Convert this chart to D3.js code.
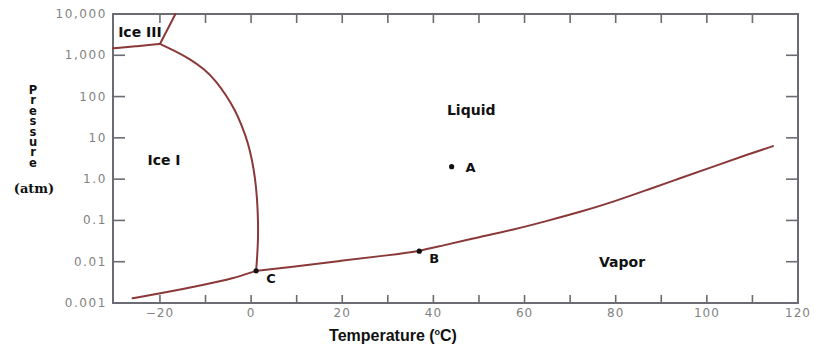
<!DOCTYPE html>
<html>
<head>
<meta charset="utf-8">
<script src="https://cdn.jsdelivr.net/npm/d3@7.9.0/dist/d3.min.js"></script>
<style>
  body { margin: 0; background: #fff; }
  svg { display: block; }
</style>
</head>
<body>
<svg></svg>
<script>
// phase boundaries, [temperature °C, pressure atm]
const iceIIIiceI = [[-30.3, 1480], [-25, 1650], [-20, 1880]];
const iceIIIliquid = [[-20, 1880], [-16.6, 10000]];
const melting = [[-20, 1880], [-16.7, 1270], [-13.4, 813], [-10.3, 466], [-7.7, 239], [-5.5, 109],
  [-3.5, 47], [-2.0, 19.4], [-0.66, 7.5], [0.22, 2.9], [0.88, 1.07], [1.32, 0.35], [1.54, 0.10],
  [1.54, 0.034], [1.32, 0.0123], [1.1, 0.006]];
const sublimation = [[-26, 0.0013], [-20, 0.0017], [-10, 0.0028], [-4, 0.0039], [1.1, 0.006]];
const vaporization = [[1.1, 0.006], [8.6, 0.0074], [19.5, 0.0105], [30.5, 0.0145], [36.9, 0.018],
  [41.5, 0.024], [50.3, 0.040], [57.5, 0.059], [65, 0.098], [72.2, 0.16], [79.4, 0.28],
  [86.9, 0.55], [94.1, 1.05], [101.4, 2.0], [108.8, 3.9], [114.5, 6.3]];

const points = [{ name: "A", t: 44, p: 2.0 }, { name: "B", t: 36.9, p: 0.018 }, { name: "C", t: 1.1, p: 0.006 }];
const regions = [
  { name: "Ice III", t: -24.4, p: 3650 },
  { name: "Ice I", t: -19.1, p: 2.9 },
  { name: "Liquid", t: 48.3, p: 48 },
  { name: "Vapor", t: 81.4, p: 0.01 }
];

const xLabels = [-20, 0, 20, 40, 60, 80, 100, 120];
const xMinor = d3.range(-20, 111, 10);
const yTicks = [0.001, 0.01, 0.1, 1, 10, 100, 1000, 10000];
const yLabels = ["0.001", "0.01", "0.1", "1.0", "10", "100", "1,000", "10,000"];

const width = 814, height = 347;
const svg = d3.select("svg").attr("width", width).attr("height", height);

const x = d3.scaleLinear().domain([-30.3, 120]).range([113, 798]);
const y = d3.scaleLog().domain([0.001, 10000]).range([303, 14]);

const axisColor = "#6b6b73";
const lineColor = "#8a3838";

// ticks (all pointing inward)
const ticks = svg.append("g").attr("stroke", axisColor).attr("stroke-width", 1.6);
ticks.selectAll(".bt").data(xMinor).enter().append("line")
  .attr("x1", d => x(d)).attr("x2", d => x(d)).attr("y1", 303).attr("y2", 295);
ticks.selectAll(".tt").data(xMinor).enter().append("line")
  .attr("x1", d => x(d)).attr("x2", d => x(d)).attr("y1", 14).attr("y2", 23);
ticks.selectAll(".lt").data(yTicks.slice(1, -1)).enter().append("line")
  .attr("x1", 113).attr("x2", 125).attr("y1", d => y(d)).attr("y2", d => y(d));
ticks.selectAll(".rt").data(yTicks.slice(1, -1)).enter().append("line")
  .attr("x1", 798).attr("x2", 786).attr("y1", d => y(d)).attr("y2", d => y(d));

// frame
svg.append("rect")
  .attr("x", 113).attr("y", 14).attr("width", 685).attr("height", 289)
  .attr("fill", "none").attr("stroke", axisColor).attr("stroke-width", 2);

// tick labels
svg.append("g").selectAll("text").data(xLabels).enter().append("text")
  .attr("x", d => x(d)).attr("y", 317)
  .attr("text-anchor", "middle")
  .attr("font-family", "DejaVu Sans").attr("font-size", 12)
  .attr("letter-spacing", 1)
  .attr("fill", "#828282")
  .text(d => d < 0 ? "\u2212" + Math.abs(d) : d);

svg.append("g").selectAll("text").data(yTicks).enter().append("text")
  .attr("x", 107).attr("y", d => y(d) + 4)
  .attr("text-anchor", "end")
  .attr("font-family", "DejaVu Sans").attr("font-size", 12)
  .attr("letter-spacing", 1.6)
  .attr("fill", "#828282")
  .text((d, i) => yLabels[i]);

// phase boundary curves
const line = d3.line().x(d => x(d[0])).y(d => y(d[1])).curve(d3.curveBasis);
const plot = svg.append("g").attr("fill", "none").attr("stroke", lineColor)
  .attr("stroke-width", 2).attr("stroke-linecap", "round");
[iceIIIiceI, iceIIIliquid, melting, sublimation, vaporization].forEach(curve => {
  plot.append("path").attr("d", line(curve));
});

// points
svg.selectAll(".pt").data(points).enter().append("circle")
  .attr("cx", d => x(d.t)).attr("cy", d => y(d.p)).attr("r", 2.6).attr("fill", "#111");

const labelOffset = { A: [19, 5], B: [15, 12], C: [15, 12] };
svg.selectAll(".pl").data(points).enter().append("text")
  .attr("x", d => x(d.t) + labelOffset[d.name][0]).attr("y", d => y(d.p) + labelOffset[d.name][1])
  .attr("text-anchor", "middle")
  .attr("font-family", "DejaVu Sans").attr("font-weight", "bold").attr("font-size", 13)
  .attr("fill", "#111")
  .text(d => d.name);

// region names
svg.selectAll(".rg").data(regions).enter().append("text")
  .attr("x", d => x(d.t)).attr("y", d => y(d.p) + 5)
  .attr("text-anchor", "middle")
  .attr("font-family", "DejaVu Sans").attr("font-weight", "bold").attr("font-size", 14)
  .attr("fill", "#111")
  .text(d => d.name);

// axis titles
const xt = svg.append("text")
  .attr("x", 393).attr("y", 341)
  .attr("text-anchor", "middle")
  .attr("font-family", "Liberation Sans Narrow, Liberation Sans").attr("font-weight", "bold")
  .attr("font-size", 16).attr("fill", "#111");
xt.append("tspan").text("Temperature (");
xt.append("tspan").attr("font-size", 9).attr("dy", -6).text("o");
xt.append("tspan").attr("dy", 6).text("C)");

// vertical "Pressure", letters stacked upright
svg.append("text")
  .attr("x", 33).attr("y", 83)
  .attr("writing-mode", "vertical-rl")
  .style("text-orientation", "upright")
  .attr("letter-spacing", -3.6)
  .attr("font-family", "DejaVu Sans").attr("font-weight", "bold").attr("font-size", 11.5)
  .attr("fill", "#111")
  .text("Pressure");
svg.append("text")
  .attr("x", 34).attr("y", 193)
  .attr("text-anchor", "middle")
  .attr("font-family", "DejaVu Serif").attr("font-weight", "bold").attr("font-size", 13)
  .attr("fill", "#111")
  .text("(atm)");
</script>
</body>
</html>
